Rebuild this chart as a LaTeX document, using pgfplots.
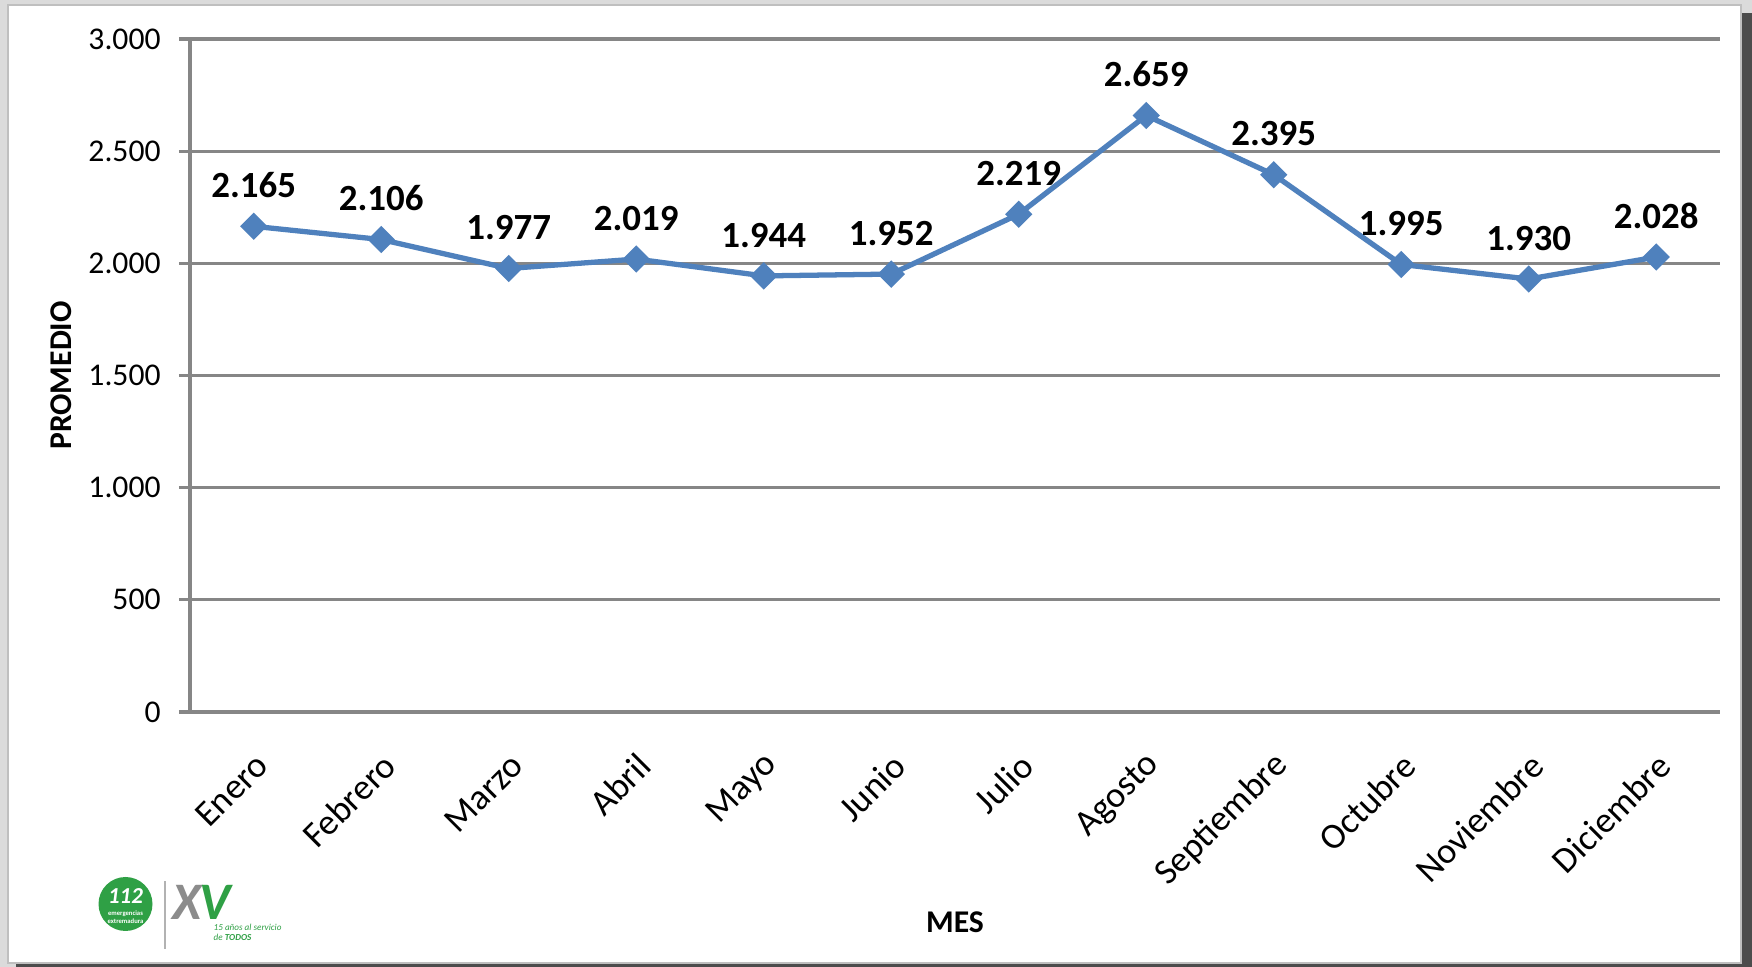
\documentclass[border=0pt]{standalone}
\usepackage{pgfplots}
\pgfplotsset{compat=1.18}
\usepackage{fontspec}
\setmainfont{Carlito}
\definecolor{serie}{HTML}{4F81BD}
\definecolor{rejilla}{HTML}{868686}
\definecolor{verde}{HTML}{2FA045}
\definecolor{grislogo}{HTML}{8C8C8C}

\begin{document}
\begin{tikzpicture}
\useasboundingbox (0,0) rectangle (175.2mm,96.7mm);
% marco
\fill[black!14] (0,0) rectangle (175.2mm,96.7mm);
\fill[black!70] (1.6mm,0) rectangle (175.2mm,95.4mm);
\fill[white] (0.8mm,0.4mm) rectangle (174.1mm,96.2mm);
\draw[black!25, line width=0.6pt] (0.8mm,0.4mm) rectangle (174.1mm,96.2mm);

\begin{axis}[
    at={(19mm,25.5mm)}, anchor=south west,
    scale only axis,
    width=153mm, height=67.3mm,
    xmin=-0.5, xmax=11.5,
    ymin=0, ymax=3000,
    xtick={0,...,11},
    xticklabels={Enero,Febrero,Marzo,Abril,Mayo,Junio,Julio,Agosto,Septiembre,Octubre,Noviembre,Diciembre},
    ytick={0,500,...,3000},
    axis x line*=bottom,
    axis y line*=left,
    axis line style={rejilla, line width=0.9pt, -},
    ymajorgrids,
    major grid style={rejilla, line width=0.9pt},
    major x tick style={draw=none},
    major y tick style={rejilla, line width=0.9pt},
    tick align=outside,
    major tick length=1.1mm,
    /pgf/number format/assume math mode=true,
    /pgf/number format/.cd, 1000 sep={.}, fixed, /pgfplots/.cd,
    tick label style={font=\fontsize{9}{11}\selectfont, black},
    yticklabel style={xshift=-0.6mm},
    xticklabel style={font=\fontsize{10.3}{12}\selectfont, rotate=45, anchor=east, xshift=-0.8mm, yshift=-3.2mm},
    xlabel={MES},
    ylabel={PROMEDIO},
    label style={font=\fontsize{9}{11}\selectfont\bfseries},
    xlabel style={at={(axis description cs:0.5,0)}, anchor=center, yshift=-21mm},
    ylabel style={at={(axis description cs:0,0.5)}, anchor=center, yshift=12.85mm},
    nodes near coords,
    every node near coord/.append style={font=\fontsize{10.5}{12}\selectfont\bfseries, black, anchor=south, inner sep=0pt, yshift=2.6mm},
    clip=false,
]
\addplot[serie, line width=1.5pt, mark=square*, mark size=2pt, mark options={rotate=45, fill=serie, draw=serie}] coordinates {
    (0,2165) (1,2106) (2,1977) (3,2019) (4,1944) (5,1952)
    (6,2219) (7,2659) (8,2395) (9,1995) (10,1930) (11,2028)
};
\end{axis}

% logo
\fill[verde] (12.55mm,6.3mm) circle (2.7mm);
\node[white, font=\fontsize{6.5}{7}\selectfont\bfseries\itshape, inner sep=0pt] at (12.55mm,7.1mm) {112};
\node[white, font=\fontsize{1.9}{2.1}\selectfont\bfseries, inner sep=0pt, align=center] at (12.55mm,5.0mm) {emergencias\\extremadura};
\draw[black!30, line width=0.5pt] (16.5mm,1.8mm) -- (16.5mm,8.6mm);
\node[grislogo, font=\fontsize{15}{15}\selectfont\bfseries\itshape, inner sep=0pt, anchor=west] at (17.2mm,6.5mm) {X};
\node[verde, font=\fontsize{15}{15}\selectfont\bfseries\itshape, inner sep=0pt, anchor=west] at (19.9mm,6.5mm) {V};
\node[verde, font=\fontsize{2.6}{2.8}\selectfont\itshape, inner sep=0pt, anchor=west, align=left] at (21.3mm,3.5mm) {15 años al servicio\\de \textbf{TODOS}};
\end{tikzpicture}
\end{document}
